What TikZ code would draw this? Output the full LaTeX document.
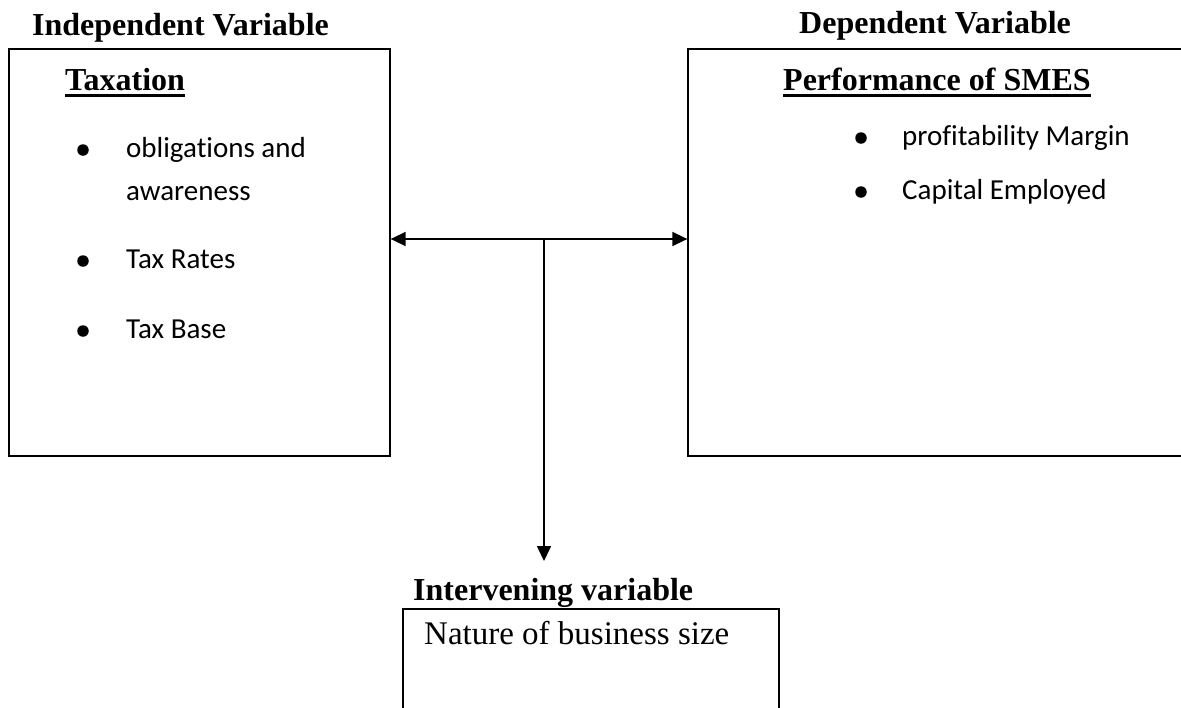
\documentclass[tikz,border=0pt]{standalone}
\usepackage{fontspec}
\setmainfont{Liberation Serif}
\newfontfamily\calfont[Ligatures=NoCommon]{Carlito}
\usetikzlibrary{arrows.meta}
\tikzset{
  box/.style={draw, line width=1.3pt, inner sep=0pt},
  head/.style={font=\fontsize{32}{38}\selectfont\bfseries, inner sep=0pt, anchor=base west},
  plain/.style={font=\fontsize{33}{39}\selectfont, inner sep=0pt, anchor=base west},
  item/.style={font=\calfont\fontsize{29}{35}\selectfont, inner sep=0pt, anchor=base west},
  dot/.style={circle, fill, inner sep=0pt, minimum size=11.5pt},
  uline/.style={line width=2.6pt},
  link/.style={line width=1.6pt, arrows={-Triangle[length=15pt,width=14pt]}},
  link2/.style={line width=1.6pt, arrows={Triangle[length=15pt,width=14pt]-Triangle[length=15pt,width=14pt]}}
}
\begin{document}
\begin{tikzpicture}[x=1pt,y=-1pt]
\useasboundingbox (0,0) rectangle (1181,707);
\clip (0,0) rectangle (1181,707);
\fill[white] (0,0) rectangle (1181,707);
% boxes
\node[box, minimum width=381pt, minimum height=407pt] (L) at (199.5,252.5) {};
\node[box, minimum width=502pt, minimum height=407pt] (R) at (939,252.5) {};
\node[box, minimum width=376pt, minimum height=120pt] (B) at (591,669) {};
% headings
\node[head] (lh) at (32,35) {Independent Variable};
\node[head] (rh) at (799,33) {Dependent Variable};
\node[head] (lt) at (65,90) {Taxation};
\node[head] (rt) at (783,90) {Performance of SMES};
\draw[uline] ([yshift=-5.5pt]lt.base west) -- ([yshift=-5.5pt]lt.base east);
\draw[uline] ([yshift=-5.5pt]rt.base west) -- ([yshift=-5.5pt]rt.base east);
\node[head] (bh) at (413,600) {Intervening variable};
\node[plain] (bt) at (424,644) {Nature of business size};
% left bullets
\node[dot] (d1) at (83,150) {};
\node[item] (i1) at (126,157) {obligations and};
\node[item] (i1b) at (126,200) {awareness};
\node[dot] (d2) at (83,261) {};
\node[item] (i2) at (126,268) {Tax Rates};
\node[dot] (d3) at (83,331) {};
\node[item] (i3) at (126,338) {Tax Base};
% right bullets
\node[dot] (d4) at (861,138) {};
\node[item] (i4) at (902,145) {profitability Margin};
\node[dot] (d5) at (861,192) {};
\node[item] (i5) at (902,199) {Capital Employed};
% connectors
\coordinate (J) at (544,239);
\coordinate (T) at (544,561);
\draw[link2] (L.east |- J) -- (R.west |- J);
\draw[link] (J) -- (T);
\end{tikzpicture}
\end{document}
